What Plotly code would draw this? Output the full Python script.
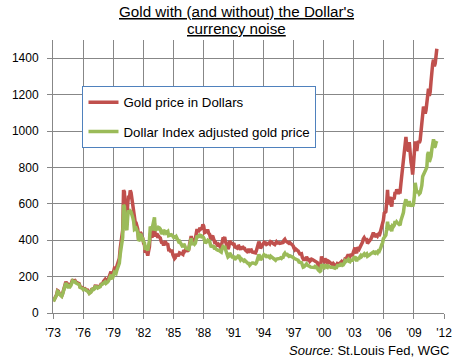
import pandas as pd
import plotly.graph_objects as go

# Monthly values, Jan 1973 .. Apr 2011
gold_usd = [
    65, 74, 84, 91, 102, 123, 120, 107, 103, 100, 94, 106,          # 1973
    129, 150, 168, 172, 163, 154, 143, 154, 151, 158, 181, 183,     # 1974
    176, 180, 178, 170, 167, 164, 166, 161, 144, 142, 142, 139,     # 1975
    131, 132, 133, 128, 126, 126, 118, 110, 114, 117, 130, 134,     # 1976
    132, 136, 148, 149, 147, 141, 143, 145, 149, 158, 162, 161,     # 1977
    173, 178, 184, 175, 177, 183, 189, 206, 212, 227, 206, 208,     # 1978
    227, 245, 242, 239, 257, 279, 295, 301, 355, 392, 392, 456,     # 1979
    675, 665, 554, 517, 513, 600, 645, 627, 674, 661, 623, 594,     # 1980
    558, 500, 499, 496, 480, 461, 409, 410, 443, 437, 413, 410,     # 1981
    384, 374, 330, 350, 334, 315, 339, 364, 436, 422, 414, 444,     # 1982
    481, 492, 420, 432, 438, 413, 422, 416, 412, 394, 382, 388,     # 1983
    371, 387, 394, 381, 378, 377, 348, 348, 341, 340, 341, 320,     # 1984
    303, 299, 304, 325, 317, 317, 318, 330, 324, 326, 325, 322,     # 1985
    345, 339, 346, 340, 342, 343, 348, 377, 418, 423, 398, 391,     # 1986
    408, 401, 409, 438, 461, 450, 450, 461, 460, 465, 467, 487,     # 1987
    477, 442, 444, 452, 451, 452, 437, 432, 413, 406, 420, 419,     # 1988
    404, 388, 390, 384, 371, 367, 375, 365, 362, 367, 391, 409,     # 1989
    410, 417, 394, 374, 369, 352, 362, 395, 389, 381, 381, 378,     # 1990
    384, 364, 363, 358, 357, 367, 368, 356, 349, 359, 360, 361,     # 1991
    354, 354, 345, 338, 337, 341, 353, 340, 345, 345, 335, 334,     # 1992
    329, 330, 330, 342, 367, 372, 392, 378, 355, 364, 374, 383,     # 1993
    387, 382, 384, 377, 381, 386, 385, 380, 392, 390, 384, 379,     # 1994
    379, 376, 382, 391, 385, 388, 386, 383, 383, 383, 386, 387,     # 1995
    400, 405, 396, 393, 392, 385, 383, 387, 383, 381, 378, 369,     # 1996
    355, 347, 352, 344, 344, 341, 324, 324, 323, 325, 306, 289,     # 1997
    289, 297, 296, 308, 299, 292, 293, 284, 289, 296, 294, 291,     # 1998
    287, 288, 280, 282, 277, 262, 256, 257, 265, 311, 293, 290,     # 1999
    284, 300, 286, 280, 275, 285, 282, 275, 273, 270, 266, 272,     # 2000
    266, 262, 263, 261, 272, 270, 268, 273, 284, 283, 276, 276,     # 2001
    282, 296, 294, 303, 315, 322, 314, 310, 319, 317, 319, 333,     # 2002
    357, 359, 340, 328, 355, 356, 351, 360, 379, 379, 389, 407,     # 2003
    414, 405, 406, 404, 383, 392, 398, 400, 406, 420, 439, 442,     # 2004
    424, 423, 434, 429, 422, 430, 424, 438, 456, 470, 476, 510,     # 2005
    549, 555, 557, 610, 676, 596, 633, 632, 598, 585, 627, 629,     # 2006
    631, 665, 655, 679, 667, 655, 665, 665, 712, 754, 806, 803,     # 2007
    889, 922, 968, 909, 888, 889, 939, 839, 829, 806, 760, 816,     # 2008
    858, 943, 924, 890, 928, 945, 934, 949, 996, 1043, 1127, 1134,  # 2009
    1118, 1095, 1113, 1148, 1205, 1232, 1193, 1215, 1271, 1343, 1370, 1392,  # 2010
    1356, 1372, 1424, 1452,                                          # 2011
]

gold_dxy_adj = [
    63, 72, 81, 88, 99, 119, 116, 104, 100, 97, 92, 103,            # 1973
    124, 144, 161, 165, 156, 148, 137, 148, 145, 152, 174, 176,     # 1974
    171, 175, 173, 165, 162, 159, 161, 156, 140, 138, 138, 135,     # 1975
    128, 129, 130, 125, 123, 123, 116, 108, 112, 115, 127, 131,     # 1976
    128, 132, 144, 145, 143, 137, 139, 141, 145, 153, 157, 156,     # 1977
    161, 166, 171, 163, 165, 170, 176, 192, 197, 211, 192, 193,     # 1978
    207, 223, 220, 217, 234, 254, 268, 274, 323, 357, 357, 415,     # 1979
    594, 585, 490, 460, 455, 530, 565, 550, 560, 555, 545, 525,     # 1980
    505, 460, 463, 466, 456, 443, 397, 402, 430, 428, 405, 406,     # 1981
    392, 385, 347, 371, 357, 343, 370, 397, 475, 464, 455, 480,     # 1982
    515, 525, 452, 465, 475, 455, 470, 468, 462, 442, 435, 445,     # 1983
    440, 450, 448, 440, 445, 448, 425, 428, 430, 430, 428, 415,     # 1984
    415, 418, 415, 420, 408, 405, 392, 395, 385, 375, 368, 362,     # 1985
    380, 365, 362, 355, 355, 352, 350, 372, 408, 410, 385, 375,     # 1986
    385, 378, 383, 405, 425, 418, 420, 428, 425, 425, 412, 420,     # 1987
    412, 385, 383, 390, 392, 400, 395, 395, 375, 362, 368, 368,     # 1988
    365, 350, 356, 350, 345, 345, 345, 340, 338, 335, 355, 365,     # 1989
    362, 368, 350, 333, 325, 308, 312, 330, 323, 310, 308, 308,     # 1990
    308, 292, 305, 305, 305, 318, 318, 302, 292, 298, 295, 292,     # 1991
    285, 290, 285, 278, 272, 272, 272, 263, 268, 275, 275, 275,     # 1992
    272, 273, 270, 275, 295, 302, 322, 310, 290, 298, 308, 316,     # 1993
    320, 315, 316, 310, 312, 312, 308, 304, 312, 308, 304, 302,     # 1994
    298, 292, 290, 296, 296, 300, 298, 300, 303, 300, 305, 306,     # 1995
    322, 328, 320, 320, 322, 316, 312, 315, 313, 314, 312, 306,     # 1996
    300, 298, 300, 295, 292, 290, 280, 280, 276, 276, 264, 252,     # 1997
    254, 260, 262, 270, 263, 258, 258, 255, 252, 252, 250, 250,     # 1998
    250, 255, 250, 252, 248, 236, 230, 228, 232, 268, 256, 252,     # 1999
    250, 265, 255, 252, 250, 258, 255, 252, 252, 252, 248, 250,     # 2000
    248, 246, 250, 250, 260, 260, 258, 262, 268, 268, 262, 264,     # 2001
    272, 286, 282, 288, 294, 295, 284, 282, 290, 290, 290, 298,     # 2002
    310, 310, 296, 285, 300, 302, 300, 310, 316, 310, 318, 326,     # 2003
    325, 318, 322, 325, 312, 318, 318, 322, 325, 328, 334, 335,     # 2004
    330, 328, 335, 335, 330, 340, 338, 345, 360, 375, 385, 408,     # 2005
    418, 425, 428, 460, 502, 455, 478, 475, 458, 450, 478, 475,     # 2006
    482, 505, 490, 500, 495, 488, 485, 482, 508, 525, 550, 552,     # 2007
    590, 605, 625, 600, 590, 588, 615, 585, 595, 600, 585, 600,     # 2008
    640, 715, 690, 660, 665, 665, 655, 660, 680, 700, 750, 760,     # 2009
    765, 775, 785, 800, 870, 885, 830, 845, 860, 900, 930, 955,     # 2010
    910, 915, 935, 945,                                              # 2011
]

months = pd.date_range("1973-01-01", periods=len(gold_usd), freq="MS") + pd.Timedelta(days=14)

x_tick_years = list(range(1973, 2013, 3))
x_tick_vals = [f"{y}-01-01" for y in x_tick_years]
x_tick_text = [f"'{y % 100:02d}" for y in x_tick_years]
y_tick_vals = list(range(0, 1401, 200))

series_names = ["Gold price in Dollars", "Dollar Index adjusted gold price"]
series_colors = ["#C0504D", "#9BBB59"]
title_lines = ["Gold with (and without) the Dollar's", "currency noise"]

fig = go.Figure()
fig.add_trace(go.Scatter(x=months, y=gold_usd, mode="lines", name=series_names[0],
                         line=dict(color=series_colors[0], width=3.5), legendgroup="a"))
fig.add_trace(go.Scatter(x=months, y=gold_dxy_adj, mode="lines", name=series_names[1],
                         line=dict(color=series_colors[1], width=3.5), legendgroup="b"))

grid_col = "#878787"
L, R, T, B = 41, 12, 40, 50
W, H = 464, 363
pw, ph = W - L - R, H - T - B

def px(xp):
    return (xp - L) / pw

def py(yp):
    return (H - B - yp) / ph

fig.update_layout(
    width=W, height=H,
    margin=dict(l=L, r=R, t=T, b=B),
    paper_bgcolor="white", plot_bgcolor="white",
    font=dict(family="Liberation Sans, Arial, sans-serif", size=12, color="#000000"),
    showlegend=True,
    legend=dict(x=px(72), y=py(86), xanchor="left", yanchor="top",
                bgcolor="white", bordercolor="#4F81BD", borderwidth=1,
                font=dict(size=13.3), traceorder="grouped", tracegroupgap=9,
                itemwidth=30),
    xaxis=dict(type="date", range=["1973-01-01", "2012-01-01"],
               tickvals=x_tick_vals, ticktext=x_tick_text,
               showgrid=True, gridcolor=grid_col, gridwidth=1,
               showline=True, linecolor=grid_col, linewidth=1,
               ticks="outside", ticklen=5, tickcolor=grid_col,
               ticklabelstandoff=4,
               zeroline=False, fixedrange=True),
    yaxis=dict(range=[0, 1500], tickvals=y_tick_vals,
               showgrid=True, gridcolor=grid_col, gridwidth=1,
               showline=True, linecolor=grid_col, linewidth=1,
               ticks="outside", ticklen=5, tickcolor=grid_col,
               ticklabelstandoff=6,
               zeroline=False, fixedrange=True),
    annotations=[
        dict(text="<u>" + title_lines[0] + "</u>", xref="paper", yref="paper",
             x=px(234), y=py(12), xanchor="center", yanchor="middle", showarrow=False,
             font=dict(size=15.2, color="#000000")),
        dict(text="<u>" + title_lines[1] + "</u>", xref="paper", yref="paper",
             x=px(234), y=py(29), xanchor="center", yanchor="middle", showarrow=False,
             font=dict(size=15.2, color="#000000")),
        dict(text="<i>Source:</i> St.Louis Fed, WGC", xref="paper", yref="paper",
             x=px(459), y=py(350), xanchor="right", yanchor="middle", showarrow=False,
             font=dict(size=13, color="#000000")),
    ],
)

fig.write_html("out.html", config={"displayModeBar": False},
               post_script="document.body.style.margin='0px';")
